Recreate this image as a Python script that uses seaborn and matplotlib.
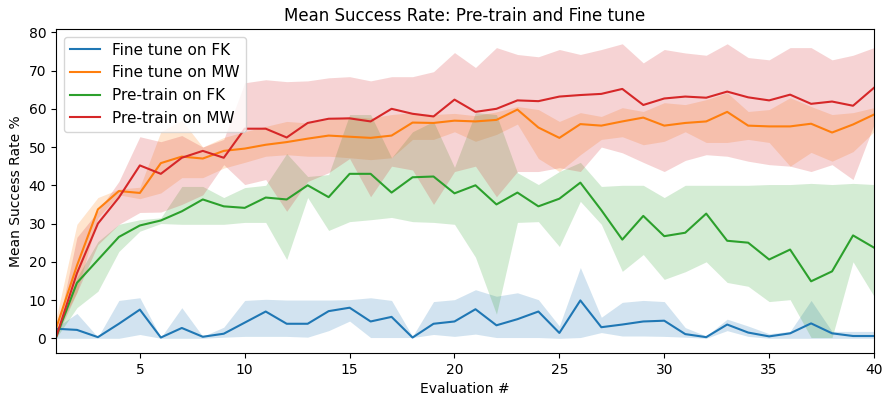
import numpy as np
import seaborn as sns
import matplotlib
matplotlib.use("Agg")
import matplotlib.pyplot as plt

# evaluation index 1..40
evals = np.arange(1, 41)

labels = ['Fine tune on FK', 'Fine tune on MW', 'Pre-train on FK', 'Pre-train on MW']

# Fine tune on FK
ft_fk_mean = [2.5, 2.2, 0.3, 3.8, 7.5, 0.2, 2.7, 0.4, 1.2, 4.1,
              7.0, 3.8, 3.8, 7.1, 8.0, 4.4, 5.6, 0.2, 3.8, 4.4,
              7.6, 3.4, 5.0, 7.0, 1.4, 9.9, 2.9, 3.6, 4.4, 4.6,
              1.1, 0.3, 3.6, 1.5, 0.5, 1.3, 3.9, 1.3, 0.6, 0.6]
ft_fk_lo = [0, 0, 0, 0, 1.0, 0, 0, 0, 0.3, 0.5,
            0.5, 0.5, 0.3, 2.0, 4.5, 0.2, 0.2, 0.2, 1.0, 0.5,
            1.1, 0.2, 0.2, 0.2, 0, 0.2, 1.5, 0.6, 0.6, 0.5,
            0.3, 0, 2.0, 0.5, 0, 0, 0, 0, 0, 0]
ft_fk_hi = [2.8, 6.5, 0.3, 9.9, 10.6, 0.2, 8.0, 0.5, 2.9, 9.9,
            10.2, 10.0, 10.0, 10.0, 10.1, 10.6, 9.9, 0.5, 9.6, 10.1,
            12.7, 11.0, 11.9, 10.1, 3.2, 18.5, 5.5, 9.4, 9.9, 9.6,
            2.8, 0.6, 5.0, 3.2, 1.2, 1.8, 9.9, 1.8, 1.8, 1.8]

# Fine tune on MW
ft_mw_mean = [2.5, 19.0, 33.7, 38.5, 38.0, 45.8, 47.5, 47.0, 49.0, 49.6,
              50.6, 51.3, 52.2, 53.0, 52.7, 52.4, 53.0, 56.4, 56.3, 56.9,
              56.7, 57.1, 59.8, 55.1, 52.4, 56.0, 55.6, 56.7, 57.7, 55.6,
              56.3, 56.7, 59.2, 55.6, 55.4, 55.4, 56.1, 53.8, 55.9, 58.5]
ft_mw_lo = [1.5, 12.0, 31.5, 37.5, 36.5, 38.0, 42.0, 42.0, 44.5, 46.0,
            47.6, 48.0, 47.6, 47.6, 47.2, 46.7, 47.2, 52.0, 52.0, 54.0,
            51.5, 53.3, 56.0, 47.0, 43.6, 48.0, 52.0, 52.7, 50.6, 51.5,
            54.0, 51.2, 51.2, 52.0, 51.2, 45.0, 48.6, 46.3, 48.8, 54.0]
ft_mw_hi = [5.0, 29.8, 36.8, 39.0, 39.5, 54.0, 57.0, 50.0, 52.5, 54.0,
            55.4, 56.7, 56.3, 57.2, 58.0, 57.6, 58.5, 59.0, 58.5, 58.8,
            58.2, 59.2, 60.6, 59.8, 56.7, 59.0, 58.0, 60.3, 59.3, 61.6,
            61.1, 62.4, 64.2, 59.3, 59.8, 62.9, 60.6, 58.5, 59.0, 60.3]

# Pre-train on FK
pt_fk_mean = [0.2, 14.5, 20.5, 26.5, 29.5, 30.8, 33.2, 36.3, 34.5, 34.1,
              36.8, 36.3, 40.0, 36.9, 43.0, 43.0, 38.1, 42.1, 42.3, 37.9,
              40.0, 35.0, 38.1, 34.5, 36.5, 40.7, 33.5, 25.8, 32.0, 26.7,
              27.6, 32.6, 25.5, 25.0, 20.6, 23.2, 14.9, 17.5, 26.9, 23.7]
pt_fk_lo = [0, 8.0, 12.3, 22.7, 28.0, 30.0, 29.8, 29.8, 29.8, 30.3,
            30.3, 20.6, 36.8, 28.2, 30.5, 31.0, 31.6, 30.5, 30.3, 29.8,
            21.2, 6.3, 30.3, 30.5, 24.0, 35.8, 29.8, 17.5, 21.9, 15.4,
            17.4, 20.0, 14.6, 13.6, 9.6, 10.1, 0.2, 0.2, 20.0, 11.0]
pt_fk_hi = [1.0, 15.9, 25.3, 29.8, 31.0, 31.5, 39.7, 39.7, 36.8, 39.4,
            40.0, 48.3, 42.3, 42.8, 58.5, 58.5, 47.2, 54.0, 56.7, 44.7,
            59.0, 58.5, 43.3, 40.2, 43.6, 46.0, 39.7, 40.0, 40.0, 36.8,
            40.0, 40.0, 40.0, 40.0, 40.2, 40.2, 40.5, 40.2, 40.5, 40.2]

# Pre-train on MW
pt_mw_mean = [0.2, 17.0, 30.0, 36.8, 45.2, 43.0, 47.2, 49.0, 47.2, 54.8,
              54.8, 52.5, 56.3, 57.4, 57.5, 56.7, 60.0, 58.7, 58.0, 62.4,
              59.2, 60.0, 62.2, 62.0, 63.2, 63.6, 63.9, 65.2, 61.0, 62.7,
              63.2, 62.9, 64.5, 63.0, 62.2, 63.7, 61.3, 61.9, 60.8, 65.5]
pt_mw_lo = [0, 12.0, 24.5, 29.8, 32.9, 33.0, 35.0, 37.5, 45.4, 40.2,
            41.5, 33.2, 41.0, 43.3, 47.0, 37.0, 45.0, 44.0, 35.0, 43.6,
            45.0, 37.0, 43.6, 43.6, 44.6, 43.6, 50.0, 48.5, 46.0, 43.6,
            46.5, 48.0, 47.6, 46.3, 45.4, 45.0, 43.6, 45.4, 41.5, 55.9]
pt_mw_hi = [0.5, 26.4, 33.2, 41.0, 52.7, 51.4, 53.0, 50.0, 52.0, 66.8,
            67.6, 67.1, 67.3, 68.1, 68.4, 67.3, 68.4, 68.4, 69.7, 74.7,
            70.8, 76.0, 74.2, 73.6, 75.5, 74.2, 75.5, 77.0, 72.0, 75.5,
            74.6, 74.0, 77.0, 73.4, 72.8, 76.0, 76.0, 72.8, 74.0, 76.0]

means = [ft_fk_mean, ft_mw_mean, pt_fk_mean, pt_mw_mean]
lows = [ft_fk_lo, ft_mw_lo, pt_fk_lo, pt_mw_lo]
highs = [ft_fk_hi, ft_mw_hi, pt_fk_hi, pt_mw_hi]
colors = sns.color_palette('tab10')[:4]

fig = plt.figure(figsize=(8.84, 3.98), dpi=100)
ax = fig.add_axes([0.0633, 0.113, 0.9254, 0.814])

for name, m, lo, hi, c in zip(labels, means, lows, highs, colors):
    sns.lineplot(x=evals, y=m, color=c, label=name, linewidth=1.5, ax=ax)
    ax.fill_between(evals, lo, hi, color=c, alpha=0.2, linewidth=0)

ax.set_xlim(1, 40)
ax.set_ylim(-3.85, 80.85)
ax.set_title('Mean Success Rate: Pre-train and Fine tune')
ax.set_xlabel('Evaluation #')
ax.set_ylabel('Mean Success Rate %')
ax.legend(loc='upper left', fontsize=11)

plt.savefig('out.png', dpi=100)
